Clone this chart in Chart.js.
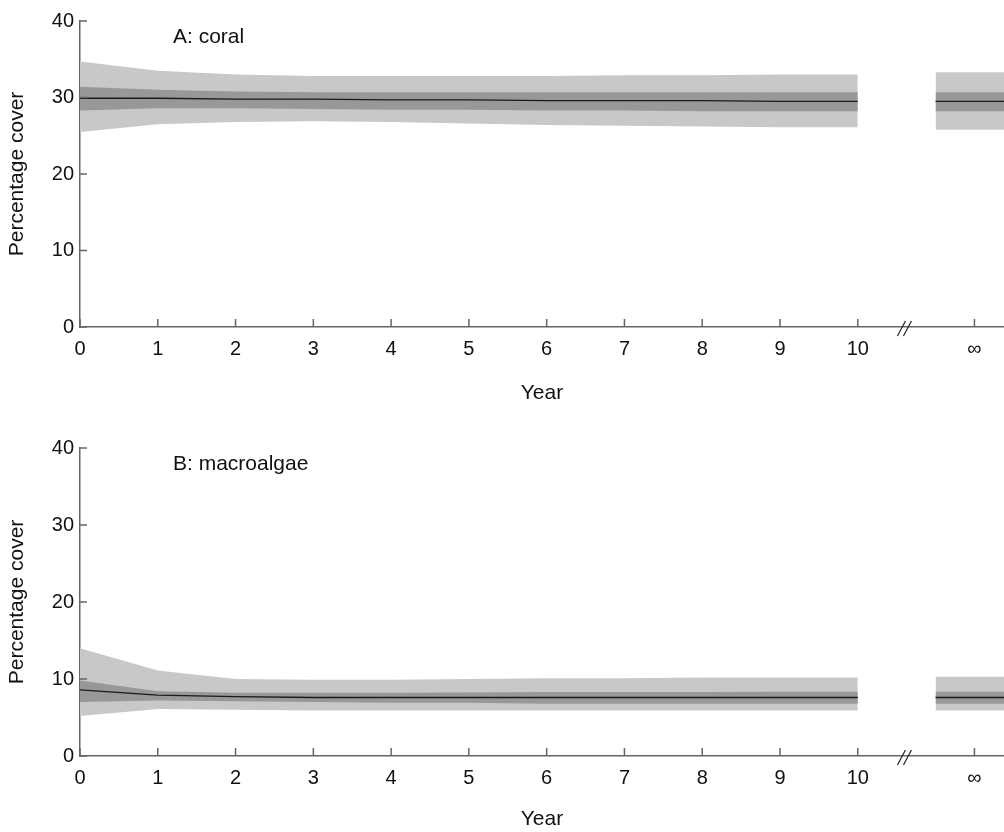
<!DOCTYPE html>
<html>
<head>
<meta charset="utf-8">
<script src="https://cdn.jsdelivr.net/npm/chart.js@4/dist/chart.umd.min.js"></script>
<style>
  body { margin: 0; background: #fff; }
  canvas { display: block; }
</style>
</head>
<body>
<canvas id="coralChart" width="1004" height="416"></canvas>
<canvas id="algaeChart" width="1004" height="416"></canvas>
<script>
// --- Data ---
const years = [0, 1, 2, 3, 4, 5, 6, 7, 8, 9, 10];
const xTickValues = [0, 1, 2, 3, 4, 5, 6, 7, 8, 9, 10];
const yTickValues = [0, 10, 20, 30, 40];
const infTickLabel = '\u221E';

// A: coral
const coralMean    = [29.9, 29.9, 29.8, 29.8, 29.7, 29.7, 29.6, 29.6, 29.6, 29.5, 29.5];
const coralDarkHi  = [31.4, 31.0, 30.8, 30.7, 30.7, 30.7, 30.7, 30.7, 30.7, 30.7, 30.7];
const coralDarkLo  = [28.3, 28.6, 28.6, 28.5, 28.4, 28.4, 28.3, 28.3, 28.2, 28.2, 28.2];
const coralLightHi = [34.7, 33.5, 33.0, 32.8, 32.8, 32.8, 32.8, 32.9, 32.9, 33.0, 33.0];
const coralLightLo = [25.5, 26.5, 26.8, 26.9, 26.8, 26.6, 26.4, 26.3, 26.2, 26.1, 26.1];
// mean, darkHi, darkLo, lightHi, lightLo at equilibrium (year = infinity)
const coralInf     = [29.5, 30.7, 28.2, 33.3, 25.8];

// B: macroalgae
const algaeMean    = [8.6, 7.9, 7.7, 7.6, 7.6, 7.6, 7.6, 7.6, 7.6, 7.6, 7.6];
const algaeDarkHi  = [9.8, 8.4, 8.2, 8.2, 8.2, 8.25, 8.3, 8.3, 8.3, 8.35, 8.35];
const algaeDarkLo  = [7.0, 7.2, 7.1, 7.0, 6.9, 6.9, 6.8, 6.8, 6.8, 6.8, 6.8];
const algaeLightHi = [14.0, 11.1, 10.0, 9.9, 9.9, 10.0, 10.1, 10.1, 10.2, 10.2, 10.2];
const algaeLightLo = [5.2, 6.1, 6.0, 5.9, 5.9, 5.9, 5.9, 5.9, 5.9, 5.9, 5.9];
const algaeInf     = [7.6, 8.35, 6.8, 10.3, 5.9];

// x positions of the broken-axis section
const breakPos = 10.6;
const infStart = 11;
const infPos = 11.5;
const xMax = 11.88;

const LIGHT = '#c8c8c8';
const DARK = '#989898';
const AXIS = '#666666';
const FONT = "'Liberation Sans', Arial, sans-serif";

function pts(xs, ys) {
    return xs.map((x, i) => ({ x: x, y: ys[i] }));
}

function bandSets(xs, mean, darkHi, darkLo, lightHi, lightLo) {
    const base = { pointRadius: 0, tension: 0, borderWidth: 0, spanGaps: false };
    return [
        { ...base, data: pts(xs, lightHi), fill: '+1', backgroundColor: LIGHT, order: 3 },
        { ...base, data: pts(xs, lightLo), fill: false, order: 3 },
        { ...base, data: pts(xs, darkHi), fill: '+1', backgroundColor: DARK, order: 2 },
        { ...base, data: pts(xs, darkLo), fill: false, order: 2 },
        { ...base, data: pts(xs, mean), fill: false, borderColor: '#1a1a1a', borderWidth: 1.3, order: 0 }
    ];
}

// inward ticks, axis break mark and panel label
const decorPlugin = {
    id: 'decor',
    afterDraw(chart, args, opts) {
        const { ctx, chartArea, scales } = chart;
        const xs = scales.x, ys = scales.y;
        ctx.save();
        ctx.strokeStyle = AXIS;
        ctx.lineWidth = 1.5;
        ctx.beginPath();
        ys.ticks.forEach(t => {
            const py = ys.getPixelForValue(t.value);
            ctx.moveTo(chartArea.left, py);
            ctx.lineTo(chartArea.left + 7, py);
        });
        xs.ticks.forEach(t => {
            const px = xs.getPixelForValue(t.value);
            ctx.moveTo(px, chartArea.bottom);
            ctx.lineTo(px, chartArea.bottom - 8);
        });
        ctx.stroke();

        // "//" break on the x axis
        const bx = xs.getPixelForValue(breakPos);
        const by = chartArea.bottom;
        ctx.strokeStyle = '#222';
        ctx.lineWidth = 1.2;
        ctx.beginPath();
        [-3, 3].forEach(d => {
            ctx.moveTo(bx + d - 4, by + 9);
            ctx.lineTo(bx + d + 4, by - 6);
        });
        ctx.stroke();

        ctx.fillStyle = '#111';
        ctx.font = '21px ' + FONT;
        ctx.textAlign = 'left';
        ctx.textBaseline = 'middle';
        ctx.fillText(opts.label, chartArea.left + 93, chartArea.top + 16);
        ctx.restore();
    }
};

function makeChart(id, label, series, inf, topPad, axisHeight, yearPad) {
    const datasets = bandSets(years, ...series)
        .concat(bandSets([infStart, xMax],
            [inf[0], inf[0]], [inf[1], inf[1]], [inf[2], inf[2]], [inf[3], inf[3]], [inf[4], inf[4]]));

    new Chart(document.getElementById(id), {
        type: 'line',
        data: { datasets: datasets },
        plugins: [decorPlugin],
        options: {
            responsive: false,
            animation: false,
            layout: { padding: { top: topPad, right: 0, left: 0, bottom: 0 } },
            plugins: {
                legend: { display: false },
                tooltip: { enabled: false },
                decor: { label: label }
            },
            scales: {
                x: {
                    type: 'linear',
                    min: 0,
                    max: xMax,
                    afterBuildTicks: s => { s.ticks = xTickValues.concat([infPos]).map(v => ({ value: v })); },
                    afterFit: s => { s.height = axisHeight; },
                    grid: { display: false, drawTicks: false },
                    border: { display: true, color: AXIS, width: 1.5 },
                    ticks: {
                        padding: 10,
                        color: '#111',
                        font: { family: FONT, size: 20 },
                        maxRotation: 0,
                        callback: v => v === infPos ? infTickLabel : v
                    },
                    title: {
                        display: true,
                        text: 'Year',
                        color: '#111',
                        font: { family: FONT, size: 21 },
                        padding: { top: 0, bottom: yearPad }
                    }
                },
                y: {
                    min: 0,
                    max: 40,
                    afterBuildTicks: s => { s.ticks = yTickValues.map(v => ({ value: v })); },
                    afterFit: s => { s.width = 80; },
                    grid: { display: false, drawTicks: false },
                    border: { display: true, color: AXIS, width: 1.5 },
                    ticks: {
                        padding: 6,
                        color: '#111',
                        font: { family: FONT, size: 20 }
                    },
                    title: {
                        display: true,
                        text: 'Percentage cover',
                        color: '#111',
                        font: { family: FONT, size: 21 },
                        padding: { top: 5, bottom: 0 }
                    }
                }
            }
        }
    });
}

document.addEventListener('DOMContentLoaded', () => {
    makeChart('coralChart', 'A: coral',
        [coralMean, coralDarkHi, coralDarkLo, coralLightHi, coralLightLo], coralInf, 21, 89, 10);
    makeChart('algaeChart', 'B: macroalgae',
        [algaeMean, algaeDarkHi, algaeDarkLo, algaeLightHi, algaeLightLo], algaeInf, 32, 76, 0);
});
</script>
</body>
</html>
